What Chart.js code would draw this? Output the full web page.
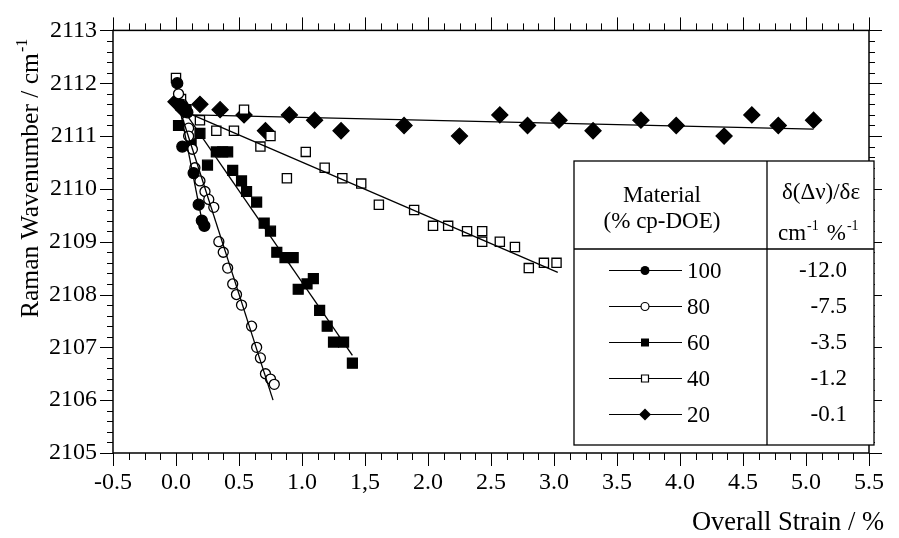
<!DOCTYPE html>
<html>
<head>
<meta charset="utf-8">
<script src="https://cdn.jsdelivr.net/npm/chart.js@4"></script>
<style>
  body { margin: 0; background: #fff; }
  #chart { display: block; }
</style>
</head>
<body>
<canvas id="chart" width="899" height="538"></canvas>
<script>
// tick labels (the original prints "1,5")
const xTickLabels = ["-0.5", "0.0", "0.5", "1.0", "1,5", "2.0", "2.5", "3.0", "3.5", "4.0", "4.5", "5.0", "5.5"];

// 100 % cp-DOE (filled circles)
const strain100 = [0.01, 0.03, 0.06, 0.09, 0.05, 0.14, 0.18, 0.205, 0.225];
const wave100 = [2112.0, 2111.6, 2111.55, 2111.45, 2110.8, 2110.3, 2109.7, 2109.4, 2109.3];

// 80 % (open circles)
const strain80 = [0.02, 0.05, 0.10, 0.10, 0.13, 0.15, 0.19, 0.23, 0.26, 0.30, 0.34, 0.375, 0.41, 0.45, 0.48, 0.52, 0.60, 0.64, 0.67, 0.71, 0.75, 0.78];
const wave80 = [2111.8, 2111.6, 2111.15, 2111.0, 2110.75, 2110.4, 2110.15, 2109.95, 2109.8, 2109.65, 2109.0, 2108.8, 2108.5, 2108.2, 2108.0, 2107.8, 2107.4, 2107.0, 2106.8, 2106.5, 2106.4, 2106.3];

// 60 % (filled squares)
const strain60 = [0.02, 0.08, 0.12, 0.19, 0.25, 0.32, 0.37, 0.41, 0.45, 0.52, 0.56, 0.64, 0.70, 0.75, 0.80, 0.865, 0.93, 0.97, 1.04, 1.09, 1.14, 1.20, 1.25, 1.33, 1.40];
const wave60 = [2111.2, 2111.5, 2110.85, 2111.05, 2110.45, 2110.7, 2110.7, 2110.7, 2110.35, 2110.15, 2109.95, 2109.75, 2109.35, 2109.2, 2108.8, 2108.7, 2108.7, 2108.1, 2108.2, 2108.3, 2107.7, 2107.4, 2107.1, 2107.1, 2106.7];

// 40 % (open squares)
const strain40 = [0.0, 0.04, 0.19, 0.32, 0.46, 0.54, 0.67, 0.75, 0.88, 1.03, 1.18, 1.32, 1.47, 1.61, 1.89, 2.04, 2.16, 2.31, 2.43, 2.43, 2.57, 2.69, 2.80, 2.92, 3.02];
const wave40 = [2112.1, 2111.7, 2111.3, 2111.1, 2111.1, 2111.5, 2110.8, 2111.0, 2110.2, 2110.7, 2110.4, 2110.2, 2110.1, 2109.7, 2109.6, 2109.3, 2109.3, 2109.2, 2109.2, 2109.0, 2109.0, 2108.9, 2108.5, 2108.6, 2108.6];

// 20 % (filled diamonds)
const strain20 = [0.0, 0.06, 0.19, 0.35, 0.54, 0.71, 0.90, 1.10, 1.31, 1.81, 2.25, 2.57, 2.79, 3.04, 3.31, 3.69, 3.97, 4.35, 4.57, 4.78, 5.06];
const wave20 = [2111.65, 2111.5, 2111.6, 2111.5, 2111.4, 2111.1, 2111.4, 2111.3, 2111.1, 2111.2, 2111.0, 2111.4, 2111.2, 2111.3, 2111.1, 2111.3, 2111.2, 2111.0, 2111.4, 2111.2, 2111.3];

// fitted lines, start and end points
const fitStrain100 = [0.02, 0.21];
const fitWave100 = [2111.65, 2109.35];
const fitStrain80 = [0.05, 0.77];
const fitWave80 = [2111.35, 2106.0];
const fitStrain60 = [0.10, 1.40];
const fitWave60 = [2111.35, 2106.85];
const fitStrain40 = [0.13, 3.03];
const fitWave40 = [2111.4, 2108.42];
const fitStrain20 = [0.13, 5.06];
const fitWave20 = [2111.4, 2111.13];

// legend table
const materials = ["100", "80", "60", "40", "20"];
const slopes = ["-12.0", "-7.5", "-3.5", "-1.2", "-0.1"];

const FONT = "Liberation Serif";
Chart.defaults.font.family = FONT;
Chart.defaults.color = "#000";

function pts(xs, ys) {
    return xs.map((x, i) => ({ x: x, y: ys[i] }));
}

function fitLine(xs, ys) {
    return {
        data: pts(xs, ys),
        showLine: true,
        borderColor: "#000",
        borderWidth: 1.3,
        pointRadius: 0,
        fill: false
    };
}

function marks(xs, ys, style, radius, filled) {
    return {
        data: pts(xs, ys),
        showLine: false,
        pointStyle: style,
        pointRadius: radius,
        pointBackgroundColor: filled ? "#000" : "#fff",
        pointBorderColor: "#000",
        pointBorderWidth: 1.3
    };
}

/* ---------------- frame, ticks, titles, table ---------------- */

const decor = {
    id: "decor",
    afterDatasetsDraw(chart) {
        const ctx = chart.ctx;
        const xs = chart.scales.x, ys = chart.scales.y;
        const a = chart.chartArea;
        ctx.save();
        ctx.strokeStyle = "#000";

        // frame
        ctx.lineWidth = 1.5;
        ctx.strokeRect(a.left, a.top, a.right - a.left, a.bottom - a.top);

        // tick marks on all four sides
        ctx.lineWidth = 1;
        ctx.beginPath();
        for (let i = 0; i <= 48; i++) {
            const v = -0.5 + i * 0.125;
            const px = Math.round(xs.getPixelForValue(v)) + 0.5;
            const len = i % 4 === 0 ? 13 : 7;
            ctx.moveTo(px, a.bottom); ctx.lineTo(px, a.bottom + len);
            ctx.moveTo(px, a.top); ctx.lineTo(px, a.top - len);
        }
        for (let i = 0; i <= 40; i++) {
            const v = 2105 + i * 0.2;
            const py = Math.round(ys.getPixelForValue(v)) + 0.5;
            const len = i % 5 === 0 ? 13 : 6;
            ctx.moveTo(a.left, py); ctx.lineTo(a.left - len, py);
            ctx.moveTo(a.right, py); ctx.lineTo(a.right + len, py);
        }
        ctx.stroke();

        ctx.fillStyle = "#000";

        // y title
        ctx.save();
        ctx.translate(38, 318);
        ctx.rotate(-Math.PI / 2);
        ctx.font = "25.5px " + FONT;
        ctx.textAlign = "left";
        ctx.textBaseline = "alphabetic";
        const yt = "Raman Wavenumber / cm";
        ctx.fillText(yt, 0, 0);
        const w = ctx.measureText(yt).width;
        ctx.font = "16px " + FONT;
        ctx.fillText("-1", w + 1, -11);
        ctx.restore();

        // x title
        ctx.font = "26.5px " + FONT;
        ctx.textAlign = "right";
        ctx.textBaseline = "alphabetic";
        ctx.fillText("Overall Strain / %", 884, 530);

        // table
        const L = 574, R = 874, T = 161, B = 445, MID = 767, HL = 249;
        ctx.fillStyle = "#fff";
        ctx.fillRect(L, T, R - L, B - T);
        ctx.strokeStyle = "#000";
        ctx.lineWidth = 1.3;
        ctx.strokeRect(L, T, R - L, B - T);
        ctx.beginPath();
        ctx.moveTo(MID, T); ctx.lineTo(MID, B);
        ctx.moveTo(L, HL); ctx.lineTo(R, HL);
        ctx.stroke();

        ctx.fillStyle = "#000";
        ctx.font = "23px " + FONT;
        ctx.textAlign = "center";
        ctx.fillText("Material", 662, 202);
        ctx.fillText("(% cp-DOE)", 662, 228);
        ctx.fillText("\u03b4(\u0394\u03bd)/\u03b4\u03b5", 821, 199);

        // cm-1 %-1 with superscripts
        ctx.textAlign = "left";
        let cx = 778;
        ctx.font = "23px " + FONT;
        ctx.fillText("cm", cx, 240);
        cx += ctx.measureText("cm").width;
        ctx.font = "14px " + FONT;
        ctx.fillText("-1", cx + 1, 230);
        cx += ctx.measureText("-1").width + 9;
        ctx.font = "23px " + FONT;
        ctx.fillText("%", cx, 240);
        cx += ctx.measureText("%").width;
        ctx.font = "14px " + FONT;
        ctx.fillText("-1", cx + 1, 230);

        const rowY = [270, 306, 342, 378, 414];
        for (let i = 0; i < materials.length; i++) {
            const y = rowY[i];
            ctx.lineWidth = 1;
            ctx.beginPath();
            ctx.moveTo(609, y + 0.5); ctx.lineTo(682, y + 0.5);
            ctx.stroke();
            drawLegendMark(ctx, i, 645, y + 0.5);
            ctx.fillStyle = "#000";
            ctx.font = "23px " + FONT;
            ctx.textAlign = "left";
            ctx.textBaseline = "middle";
            ctx.fillText(materials[i], 687, y + 2);
            ctx.textAlign = "right";
            ctx.fillText(slopes[i], 847, y + 1);
        }
        ctx.restore();
    }
};

function drawLegendMark(ctx, i, x, y) {
    ctx.lineWidth = 1.2;
    ctx.strokeStyle = "#000";
    ctx.beginPath();
    if (i === 0) {
        ctx.arc(x, y, 4.5, 0, Math.PI * 2);
        ctx.fillStyle = "#000"; ctx.fill();
    } else if (i === 1) {
        ctx.arc(x, y, 4, 0, Math.PI * 2);
        ctx.fillStyle = "#fff"; ctx.fill(); ctx.stroke();
    } else if (i === 2) {
        ctx.rect(x - 4, y - 4, 8, 8);
        ctx.fillStyle = "#000"; ctx.fill();
    } else if (i === 3) {
        ctx.rect(x - 3.5, y - 3.5, 7, 7);
        ctx.fillStyle = "#fff"; ctx.fill(); ctx.stroke();
    } else {
        ctx.moveTo(x, y - 6); ctx.lineTo(x + 6, y); ctx.lineTo(x, y + 6); ctx.lineTo(x - 6, y);
        ctx.closePath();
        ctx.fillStyle = "#000"; ctx.fill();
    }
}

new Chart(document.getElementById("chart"), {
    type: "scatter",
    data: {
        datasets: [
            fitLine(fitStrain100, fitWave100),
            fitLine(fitStrain80, fitWave80),
            fitLine(fitStrain60, fitWave60),
            fitLine(fitStrain40, fitWave40),
            fitLine(fitStrain20, fitWave20),
            marks(strain100, wave100, "circle", 5.5, true),
            marks(strain80, wave80, "circle", 5, false),
            marks(strain60, wave60, "rect", 7, true),
            marks(strain40, wave40, "rect", 6.5, false),
            marks(strain20, wave20, "rectRot", 8, true)
        ]
    },
    options: {
        responsive: false,
        animation: false,
        layout: { padding: { top: 25, right: 18, left: 0, bottom: 0 } },
        plugins: {
            legend: { display: false },
            tooltip: { enabled: false }
        },
        scales: {
            x: {
                type: "linear",
                min: -0.5,
                max: 5.5,
                grid: { display: false, drawTicks: false },
                border: { display: false },
                ticks: {
                    stepSize: 0.5,
                    autoSkip: false,
                    maxRotation: 0,
                    padding: 15,
                    font: { size: 24 },
                    callback: (v, i) => xTickLabels[i]
                },
                afterFit: s => { s.height = 85; }
            },
            y: {
                min: 2105,
                max: 2113,
                grid: { display: false, drawTicks: false },
                border: { display: false },
                ticks: {
                    stepSize: 1,
                    padding: 16,
                    font: { size: 24 },
                    callback: v => String(v)
                },
                afterFit: s => { s.width = 113; }
            }
        }
    },
    plugins: [decor]
});
</script>
</body>
</html>
